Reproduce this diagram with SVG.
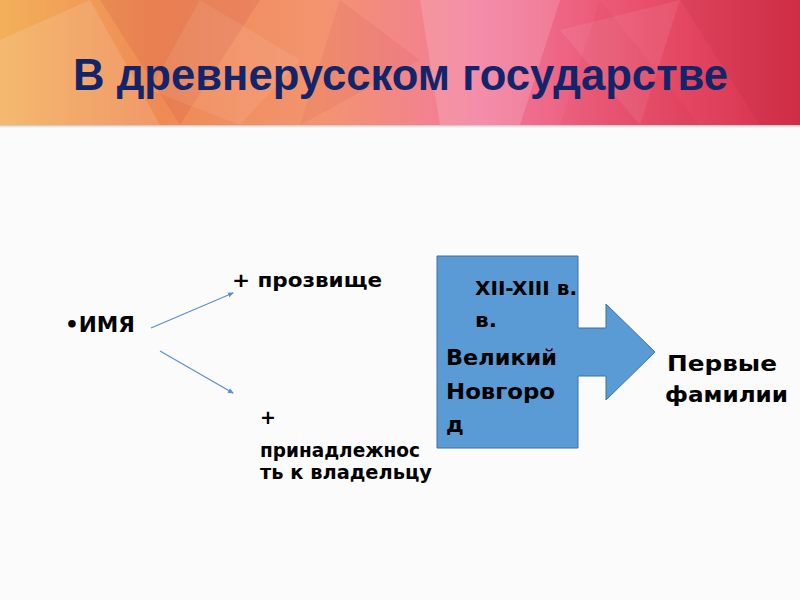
<svg xmlns="http://www.w3.org/2000/svg" width="800" height="600" viewBox="0 0 800 600">
<defs>
<linearGradient id="hdr" x1="0" y1="0" x2="1" y2="0">
<stop offset="0" stop-color="#f3b05a"/>
<stop offset="0.2" stop-color="#ef8a55"/>
<stop offset="0.4" stop-color="#f3946f"/>
<stop offset="0.6" stop-color="#f27a9c"/>
<stop offset="0.8" stop-color="#e9506c"/>
<stop offset="1" stop-color="#d42f48"/>
</linearGradient>
<linearGradient id="shade" x1="0" y1="0" x2="0" y2="1">
<stop offset="0" stop-color="#999" stop-opacity="0.6"/>
<stop offset="1" stop-color="#fbfbfb" stop-opacity="0"/>
</linearGradient>
<marker id="ah" markerWidth="6" markerHeight="6" refX="5" refY="3" orient="auto" markerUnits="userSpaceOnUse">
<path d="M0,0.5 L6,3 L0,5.5 z" fill="#5b8fd0"/>
</marker>
<style>
.t{font-family:"DejaVu Sans","Liberation Sans",Arial,sans-serif;font-weight:bold;fill:#000;}
.facet{fill:#fff;}
.dark{fill:#b02030;}
.conn{stroke:#5b8fd0;stroke-width:1.2;fill:none;marker-end:url(#ah);}
</style>
</defs>
<rect width="800" height="600" fill="#fbfbfb"/>
<g id="header">
<rect x="0" y="0" width="800" height="125" fill="url(#hdr)"/>
<polygon class="facet" opacity="0.12" points="0,40 90,0 160,125 0,125"/>
<polygon class="dark" opacity="0.10" points="100,0 260,0 180,125"/>
<polygon class="dark" opacity="0.08" points="300,125 340,0 420,60"/>
<polygon class="facet" opacity="0.15" points="420,0 560,0 520,125 440,125"/>
<polygon class="facet" opacity="0.08" points="560,30 680,0 640,125"/>
<polygon class="dark" opacity="0.12" points="680,0 800,0 800,125 760,125"/>
<polygon class="facet" opacity="0.08" points="200,0 300,60 240,125 150,90"/>
<polygon class="dark" opacity="0.06" points="600,0 700,125 560,125"/>
<rect x="0" y="125" width="800" height="4" fill="url(#shade)"/>
<text x="73" y="90" font-family="Liberation Sans, Arial, sans-serif" font-weight="bold" font-size="44" fill="#12256a" textLength="655" lengthAdjust="spacingAndGlyphs">В древнерусском государстве</text>
</g>
<g id="connectors">
<line class="conn" x1="151" y1="328" x2="233" y2="293"/>
<line class="conn" x1="160" y1="351" x2="233" y2="393"/>
</g>
<g id="name">
<text class="t" x="65" y="332" font-size="21" textLength="70" lengthAdjust="spacingAndGlyphs">•ИМЯ</text>
</g>
<g id="nickname">
<text class="t" x="232" y="287" font-size="20" textLength="150" lengthAdjust="spacingAndGlyphs">+ прозвище</text>
</g>
<g id="belonging">
<text class="t" x="260" y="424" font-size="19">+</text>
<text class="t" x="260" y="457" font-size="19" textLength="160" lengthAdjust="spacingAndGlyphs">принадлежнос</text>
<text class="t" x="260" y="479" font-size="19" textLength="172" lengthAdjust="spacingAndGlyphs">ть к владельцу</text>
</g>
<g id="novgorod">
<path d="M437,256 H578 V328 H606 V304 L655,352 L606,400 V376 H578 V448 H437 Z" fill="#5b9bd5" stroke="#41719c" stroke-width="1"/>
<text class="t" x="475" y="295" font-size="20" textLength="102" lengthAdjust="spacingAndGlyphs">XII-XIII в.</text>
<text class="t" x="475" y="327" font-size="20" textLength="22" lengthAdjust="spacingAndGlyphs">в.</text>
<text class="t" x="446" y="365" font-size="22" textLength="111" lengthAdjust="spacingAndGlyphs">Великий</text>
<text class="t" x="446" y="399" font-size="22" textLength="109" lengthAdjust="spacingAndGlyphs">Новгоро</text>
<text class="t" x="446" y="432" font-size="22">д</text>
</g>
<g id="surnames">
<text class="t" x="667" y="371" font-size="22" textLength="110" lengthAdjust="spacingAndGlyphs">Первые</text>
<text class="t" x="665" y="402" font-size="22" textLength="123" lengthAdjust="spacingAndGlyphs">фамилии</text>
</g>
</svg>
